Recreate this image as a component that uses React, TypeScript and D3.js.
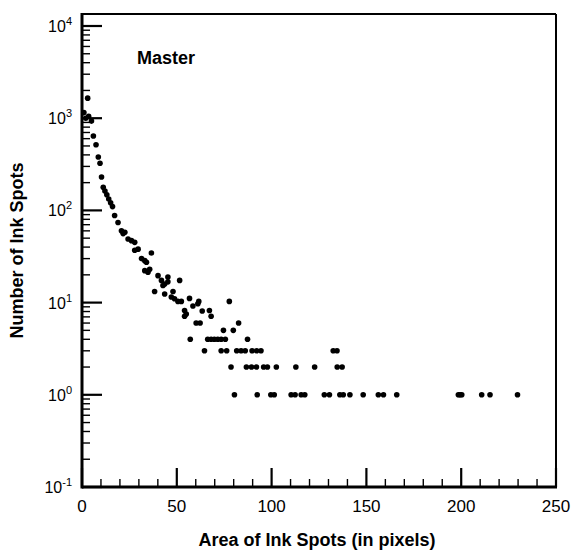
import React from "react";
import * as d3 from "d3";

// spot size (pixels) and how many spots of that size were counted
const spotArea = [
  1, 2, 3, 3.5, 5, 6, 7.4, 8.6, 9.5, 10.3, 11.2, 12.1, 13.1, 14.1, 15.1, 16.1, 17.2, 19,
  20.8, 21.7, 22.6, 24.3, 26.1, 27.8, 27.8, 29.6, 31.4, 33.1, 34, 33.1, 35.7, 34.8, 36.6,
  40.1, 41.9, 43.6, 45.3, 45.3, 51.5, 38.3, 42.7, 43.6, 48, 47.1, 48.8, 50.6, 52.4, 56.7,
  61.6, 77.7, 58.5, 61.1, 63.4, 67.2, 68.1, 54.1, 54.1, 55, 60.2, 62.3, 82.6, 74.6, 79.8,
  57.1, 66.3, 68.1, 69.8, 71.6, 73.4, 75.6, 87.3,
  64.6, 73.4, 76.3, 81.6, 83.9, 86.1, 89.7, 92.1, 94.4, 132.5, 134.5,
  78.6, 86.7, 89.4, 92, 95.8, 97.8, 102.5, 112.8, 122.7, 134.6, 137.2,
  80.4, 92.4, 99.6, 101.4, 110.3, 112.4, 115.6, 117.5, 127.8, 130.5, 136, 137.8, 141.3,
  148.3, 156.3, 159, 166, 198.5, 199.4, 200.3, 210.8, 215.2, 229.7,
];
const spotCount = [
  1150, 1000, 1650, 1050, 930, 640, 515, 380, 325, 230, 178, 162, 148, 133, 121, 110, 88, 74,
  60, 56, 58, 49, 47, 45, 37, 38, 30, 28.5, 27.4, 22.2, 23, 21.4, 34.5,
  19.6, 17.4, 15.9, 18.9, 16.8, 17.4, 13.2, 15.3, 12.4, 13.2, 11.5, 11, 10.3, 10.3, 11.1,
  10.3, 10.3, 9.2, 9.7, 8.1, 8.2, 7.1, 8.2, 7.1, 7.5, 6, 6, 6, 5, 5,
  4, 4, 4, 4, 4, 4, 4, 4,
  3, 3, 3, 3, 3, 3, 3, 3, 3, 3, 3,
  2, 2, 2, 2, 2, 2, 2, 2, 2, 2, 2,
  1, 1, 1, 1, 1, 1, 1, 1, 1, 1, 1, 1, 1,
  1, 1, 1, 1, 1, 1, 1, 1, 1, 1,
];

const xTicks = [0, 50, 100, 150, 200, 250];
const xMinorStep = 10;
const yDomain = [0.1, 10000];

const font = "'Liberation Sans', Arial, Helvetica, sans-serif";

export default function App() {
  const width = 576, height = 552;
  const margin = {top: 26, right: 20, bottom: 65, left: 82};
  const topPad = 12; // frame sits a bit above 10^4

  const x = d3.scaleLinear().domain([0, 250]).range([margin.left, width - margin.right]);
  const y = d3.scaleLog().domain(yDomain).range([height - margin.bottom, margin.top]);

  const x0 = x.range()[0], x1 = x.range()[1];
  const y0 = y.range()[0], yTop = y.range()[1] - topPad;

  const xMinor = d3.range(0, 251, xMinorStep).filter(v => !xTicks.includes(v));
  const yAll = y.ticks();
  const isMajor = (v: number) => Math.abs(Math.log10(v) - Math.round(Math.log10(v))) < 1e-6;

  return (
    <svg width={width} height={height} style={{position: "absolute", left: 0, top: 0}}
         fontFamily={font}>
      <rect width={width} height={height} fill="#fff" />

      {/* frame */}
      <line x1={x0} x2={x1} y1={yTop} y2={yTop} stroke="#000" strokeWidth={2} />
      <line x1={x1} x2={x1} y1={yTop} y2={y0} stroke="#000" strokeWidth={2} />
      <line x1={x0} x2={x1 + 1} y1={y0} y2={y0} stroke="#000" strokeWidth={3} />
      <line x1={x0} x2={x0} y1={yTop - 1} y2={y0 + 1.5} stroke="#000" strokeWidth={3} />

      {/* y ticks */}
      {yAll.map((v, i) => (
        <line key={"yt" + i} x1={x0} x2={x0 + (isMajor(v) ? 20 : 8)} y1={y(v)} y2={y(v)}
              stroke="#000" strokeWidth={isMajor(v) ? 2.2 : 1.4} />
      ))}
      {yAll.filter(isMajor).map((v, i) => {
        const e = Math.round(Math.log10(v));
        return (
          <text key={"yl" + i} x={x0 - 10} y={y(v) + 6} textAnchor="end" fontSize={16}>
            10<tspan fontSize={11} dy={-7}>{e}</tspan>
          </text>
        );
      })}

      {/* x ticks */}
      {xMinor.map(v => (
        <line key={"xm" + v} x1={x(v)} x2={x(v)} y1={y0} y2={y0 - 8} stroke="#000" strokeWidth={1.4} />
      ))}
      {xTicks.map(v => (
        <g key={"xt" + v}>
          <line x1={x(v)} x2={x(v)} y1={y0} y2={y0 - 19} stroke="#000" strokeWidth={2.2} />
          <text x={x(v)} y={y0 + 25} textAnchor="middle" fontSize={17}>{v}</text>
        </g>
      ))}

      {/* points */}
      {spotArea.map((a, i) => (
        <circle key={"p" + i} cx={x(a)} cy={y(spotCount[i])} r={2.8} fill="#000" />
      ))}

      <text x={137} y={64} fontSize={18} fontWeight="bold">Master</text>

      <text x={(x0 + x1) / 2 - 2} y={546} textAnchor="middle" fontSize={18} fontWeight="bold">
        Area of Ink Spots (in pixels)
      </text>
      <text transform={`translate(23,${(yTop + y0) / 2}) rotate(-90)`} textAnchor="middle"
            fontSize={18} fontWeight="bold">
        Number of Ink Spots
      </text>
    </svg>
  );
}
